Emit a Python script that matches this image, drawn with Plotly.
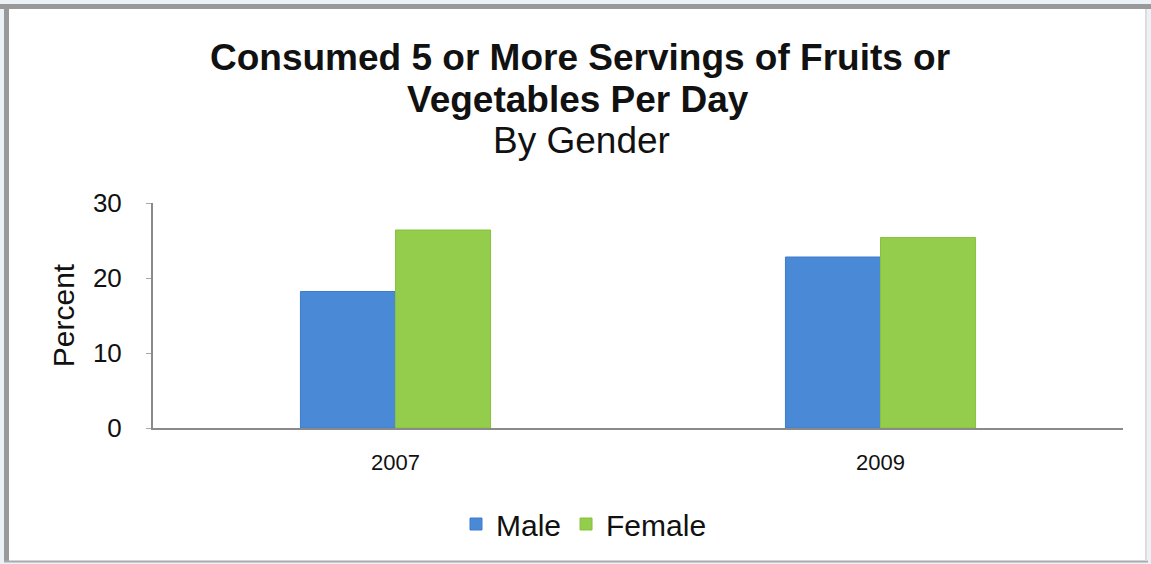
import plotly.graph_objects as go

years = ["2007", "2009"]
male = [18.2, 22.8]
female = [26.4, 25.4]
series_names = ["Male", "Female"]
y_ticks = [0, 10, 20, 30]

W, H = 1151, 564
L, R, T, B = 153, 28, 203, 136
PW, PH = W - L - R, H - T - B


def px(x):
    return (x - L) / PW


def py(y):
    return (H - B - y) / PH


fig = go.Figure()
fig.add_trace(go.Bar(x=years, y=male, name=series_names[0],
                     marker=dict(color="#4a89d6", line=dict(color="#3f7dc8", width=1))))
fig.add_trace(go.Bar(x=years, y=female, name=series_names[1],
                     marker=dict(color="#93cd4b", line=dict(color="#86c23d", width=1))))

font = "Liberation Sans, Arial, sans-serif"
ann = [
    dict(text="<b>Consumed 5 or More Servings of Fruits or</b>", x=px(580), y=py(57), size=37),
    dict(text="<b>Vegetables Per Day</b>", x=px(578), y=py(100), size=37),
    dict(text="By Gender", x=px(581), y=py(140), size=37),
]
annotations = [
    dict(text=a["text"], x=a["x"], y=a["y"], xref="paper", yref="paper",
         xanchor="center", yanchor="middle", showarrow=False,
         font=dict(family=font, size=a["size"], color="#111111"))
    for a in ann
]

shapes = [
    dict(type="rect", xref="paper", yref="paper", x0=px(9), x1=px(1146), y0=py(561), y1=py(9),
         fillcolor="white", line=dict(width=0), layer="below"),
    dict(type="line", xref="paper", yref="paper", x0=px(0), x1=px(1151), y0=py(6.5), y1=py(6.5),
         line=dict(color="#999999", width=5)),
    dict(type="line", xref="paper", yref="paper", x0=px(6.5), x1=px(6.5), y0=py(4), y1=py(562),
         line=dict(color="#999999", width=5)),
    dict(type="line", xref="paper", yref="paper", x0=px(4), x1=px(1148), y0=py(561.5), y1=py(561.5),
         line=dict(color="#aaaaaa", width=2)),
    dict(type="line", xref="paper", yref="paper", x0=px(1146), x1=px(1146), y0=py(9), y1=py(561),
         line=dict(color="#dddddd", width=2)),
]

fig.update_layout(
    width=W, height=H,
    margin=dict(l=L, r=R, t=T, b=B, autoexpand=False),
    paper_bgcolor="#eaf2f8",
    plot_bgcolor="white",
    barmode="group",
    bargap=0.608,
    bargroupgap=0,
    font=dict(family=font, color="#111111"),
    annotations=annotations,
    shapes=shapes,
    showlegend=True,
    legend=dict(orientation="h", x=px(584), y=py(524), xanchor="center", yanchor="middle",
                font=dict(size=30, color="#111111"), bgcolor="rgba(0,0,0,0)",
                itemwidth=30, traceorder="normal"),
)

fig.update_yaxes(
    range=[0, 30], tickvals=y_ticks, showgrid=False, zeroline=False,
    showline=True, linecolor="#8a8a8a", linewidth=2,
    ticks="outside", ticklen=5, tickcolor="#aaaaaa", ticklabelstandoff=19,
    tickfont=dict(size=26, color="#111111"),
    title=dict(text="Percent", font=dict(size=30, color="#111111"), standoff=9),
)
fig.update_xaxes(
    showgrid=False, showline=True, linecolor="#8a8a8a", linewidth=2,
    ticks="", ticklabelstandoff=14,
    tickfont=dict(size=22, color="#111111"),
)

fig.write_html("out.html", config={"displayModeBar": False},
               post_script="document.body.style.margin='0';document.body.style.padding='0';")
